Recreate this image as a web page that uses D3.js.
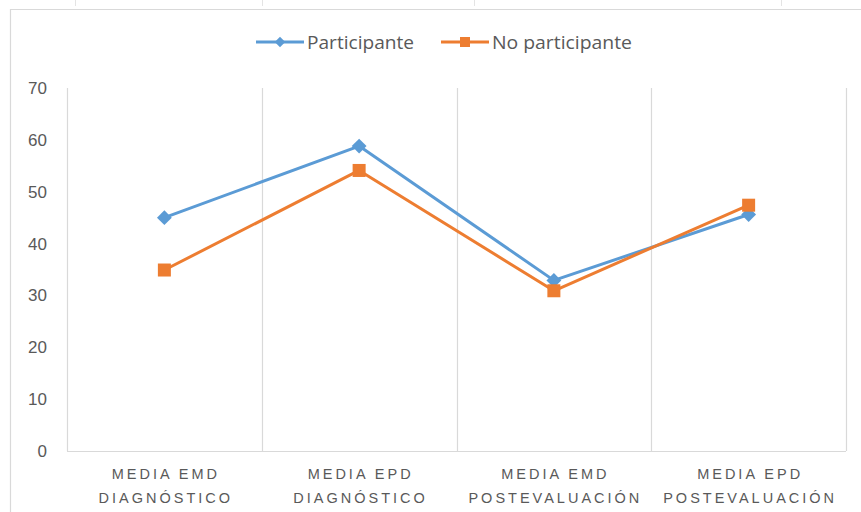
<!DOCTYPE html>
<html>
<head>
<meta charset="utf-8">
<script src="https://cdn.jsdelivr.net/npm/d3@7"></script>
<style>
  html, body { margin: 0; padding: 0; background: #ffffff; }
  svg { display: block; }
</style>
</head>
<body>
<svg id="chart" width="861" height="512"></svg>
<script>
// Category labels (two lines each)
const categories = [
  ["MEDIA EMD", "DIAGNÓSTICO"],
  ["MEDIA EPD", "DIAGNÓSTICO"],
  ["MEDIA EMD", "POSTEVALUACIÓN"],
  ["MEDIA EPD", "POSTEVALUACIÓN"]
];
const categoryKeys = ["emdDiag", "epdDiag", "emdPost", "epdPost"];

// Series values
const participante = [45, 58.8, 32.9, 45.6];
const noParticipante = [34.9, 54.1, 30.9, 47.4];

const seriesNames = ["Participante", "No participante"];
const seriesColors = ["#5B9BD5", "#ED7D31"];

// Y axis ticks
const yTicks = [0, 10, 20, 30, 40, 50, 60, 70];

const svg = d3.select("#chart");
const plot = { left: 67, right: 846, top: 88, bottom: 451 };
const gridColor = "#d9d9d9";
const textColor = "#595959";

// Outer chart frame (continues past the right edge)
svg.append("path")
  .attr("d", `M10.5,512 V9.5 H861`)
  .attr("fill", "none")
  .attr("stroke", gridColor)
  .attr("stroke-width", 1.2);

// Small marks above the frame
[75, 262, 474, 781].forEach(x => {
  svg.append("line")
    .attr("x1", x + 0.5).attr("x2", x + 0.5)
    .attr("y1", 0).attr("y2", 6)
    .attr("stroke", "#e4e4e4").attr("stroke-width", 1);
});

const x = d3.scaleBand()
  .domain(categoryKeys)
  .range([plot.left, plot.right])
  .padding(0);

const y = d3.scaleLinear()
  .domain([0, 70])
  .range([plot.bottom, plot.top]);

// Vertical gridlines at category boundaries
const boundaries = categoryKeys.map(k => x(k)).concat([x(categoryKeys[3]) + x.bandwidth()]);
svg.append("g").selectAll("line")
  .data(boundaries)
  .join("line")
  .attr("x1", d => Math.round(d) + 0.5)
  .attr("x2", d => Math.round(d) + 0.5)
  .attr("y1", plot.top)
  .attr("y2", plot.bottom)
  .attr("stroke", gridColor)
  .attr("stroke-width", 1.2);

// Baseline
svg.append("line")
  .attr("x1", plot.left).attr("x2", plot.right)
  .attr("y1", plot.bottom + 0.5).attr("y2", plot.bottom + 0.5)
  .attr("stroke", gridColor)
  .attr("stroke-width", 1.2);

// Y axis labels
const yAxis = d3.axisLeft(y).tickValues(yTicks).tickSize(0).tickPadding(20);
const yg = svg.append("g")
  .attr("transform", `translate(${plot.left},0)`)
  .call(yAxis);
yg.select(".domain").remove();
yg.selectAll("text")
  .attr("fill", textColor)
  .attr("font-family", "'Liberation Sans', Arial, sans-serif")
  .attr("font-size", 17);

// X axis category labels
const cx = k => x(k) + x.bandwidth() / 2;
const xg = svg.append("g");
categoryKeys.forEach((k, i) => {
  const t = xg.append("text")
    .attr("x", cx(k))
    .attr("y", 479)
    .attr("text-anchor", "middle")
    .attr("fill", textColor)
    .attr("font-family", "'Liberation Sans', Arial, sans-serif")
    .attr("font-size", 14.5)
    .attr("letter-spacing", "3px");
  t.append("tspan").attr("x", cx(k) + 1.5).attr("dy", 0).text(categories[i][0]);
  t.append("tspan").attr("x", cx(k) + 1.5).attr("dy", 24).text(categories[i][1]);
});

// Lines and markers
const data = [participante, noParticipante];
const line = d3.line()
  .x((d, i) => cx(categoryKeys[i]))
  .y(d => y(d));

const diamond = d3.symbol().type(d3.symbolDiamond2).size(140);

data.forEach((vals, s) => {
  svg.append("path")
    .datum(vals)
    .attr("d", line)
    .attr("fill", "none")
    .attr("stroke", seriesColors[s])
    .attr("stroke-width", 3)
    .attr("stroke-linejoin", "round");
});

data.forEach((vals, s) => {
  const g = svg.append("g");
  vals.forEach((v, i) => {
    const px = cx(categoryKeys[i]), py = y(v);
    if (s === 0) {
      g.append("path")
        .attr("d", diamond())
        .attr("transform", `translate(${px},${py})`)
        .attr("fill", seriesColors[s]);
    } else {
      g.append("rect")
        .attr("x", px - 6.5).attr("y", py - 6.5)
        .attr("width", 13).attr("height", 13)
        .attr("fill", seriesColors[s]);
    }
  });
});

// Legend
const legendItems = [
  { x: 256, name: seriesNames[0], color: seriesColors[0], marker: "diamond", len: 107 },
  { x: 441, name: seriesNames[1], color: seriesColors[1], marker: "square", len: 140 }
];
const ly = 42;
legendItems.forEach(it => {
  const g = svg.append("g");
  g.append("line")
    .attr("x1", it.x).attr("x2", it.x + 48)
    .attr("y1", ly).attr("y2", ly)
    .attr("stroke", it.color).attr("stroke-width", 3);
  if (it.marker === "diamond") {
    g.append("path")
      .attr("d", d3.symbol().type(d3.symbolDiamond2).size(70)())
      .attr("transform", `translate(${it.x + 24},${ly})`)
      .attr("fill", it.color);
  } else {
    g.append("rect")
      .attr("x", it.x + 19).attr("y", ly - 5)
      .attr("width", 10).attr("height", 10)
      .attr("fill", it.color);
  }
  g.append("text")
    .attr("x", it.x + 51)
    .attr("y", ly + 6.5)
    .attr("fill", textColor)
    .attr("font-family", "'Open Sans', sans-serif")
    .attr("font-size", 18.5)
    .attr("textLength", it.len)
    .attr("lengthAdjust", "spacingAndGlyphs")
    .text(it.name);
});
</script>
</body>
</html>
